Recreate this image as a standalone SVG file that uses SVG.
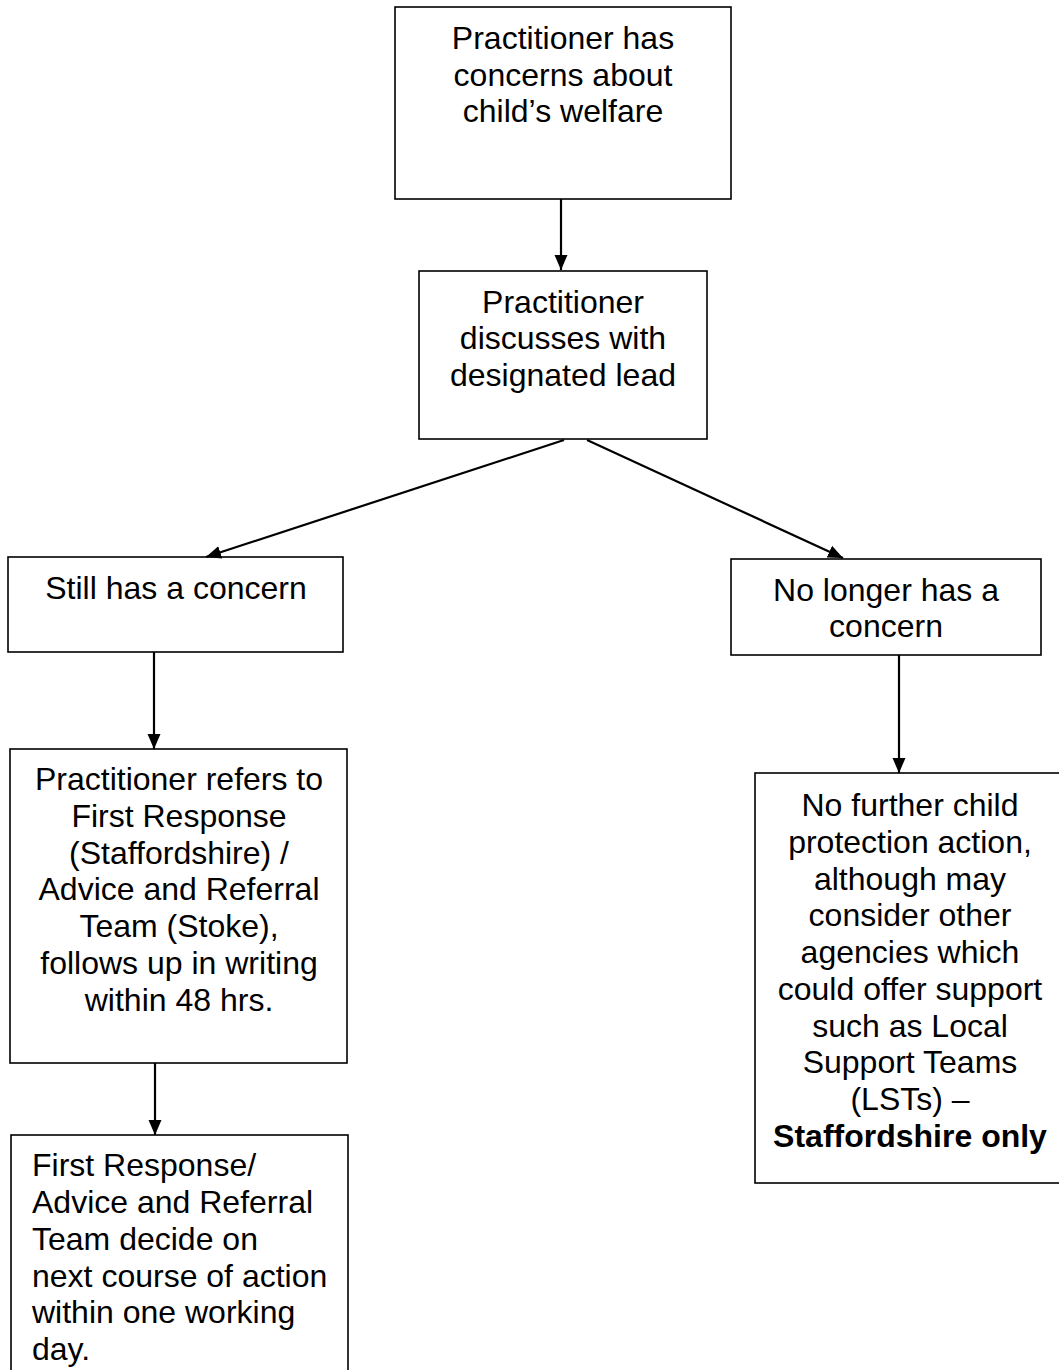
<svg xmlns="http://www.w3.org/2000/svg" width="1059" height="1370" viewBox="0 0 1059 1370">
<style>
.box{fill:#fff;stroke:#000;stroke-width:1.6}
.t{font-family:"Liberation Sans",Arial,sans-serif;font-size:32px;fill:#000}
.c{text-anchor:middle}
.b{font-weight:bold}
.conn{stroke:#000;stroke-width:2.2;fill:none}
</style>
<defs>
<marker id="ah" markerUnits="userSpaceOnUse" markerWidth="16" markerHeight="16" viewBox="0 0 16 16" refX="15" refY="8" orient="auto">
<path d="M0,1.5 L15,8 L0,14.5 Z" fill="#000"/>
</marker>
</defs>
<rect width="1059" height="1370" fill="#fff"/>
<g id="n1">
<rect class="box" x="395" y="7" width="336" height="192"/>
<text class="t c" x="563" y="49">Practitioner has</text>
<text class="t c" x="563" y="86">concerns about</text>
<text class="t c" x="563" y="122">child’s welfare</text>
</g>
<g id="n2">
<rect class="box" x="419" y="271" width="288" height="168"/>
<text class="t c" x="563" y="313">Practitioner</text>
<text class="t c" x="563" y="349">discusses with</text>
<text class="t c" x="563" y="386">designated lead</text>
</g>
<g id="n3">
<rect class="box" x="8" y="557" width="335" height="95"/>
<text class="t c" x="176" y="599">Still has a concern</text>
</g>
<g id="n4">
<rect class="box" x="731" y="559" width="310" height="96"/>
<text class="t c" x="886" y="601">No longer has a</text>
<text class="t c" x="886" y="637">concern</text>
</g>
<g id="n5">
<rect class="box" x="10" y="749" width="337" height="314"/>
<text class="t c" x="179" y="790">Practitioner refers to</text>
<text class="t c" x="179" y="827">First Response</text>
<text class="t c" x="179" y="864">(Staffordshire) /</text>
<text class="t c" x="179" y="900">Advice and Referral</text>
<text class="t c" x="179" y="937">Team (Stoke),</text>
<text class="t c" x="179" y="974">follows up in writing</text>
<text class="t c" x="179" y="1011">within 48 hrs.</text>
</g>
<g id="n6">
<rect class="box" x="11" y="1135" width="337" height="245"/>
<text class="t" x="32" y="1176">First Response/</text>
<text class="t" x="32" y="1213">Advice and Referral</text>
<text class="t" x="32" y="1250">Team decide on</text>
<text class="t" x="32" y="1287">next course of action</text>
<text class="t" x="32" y="1323">within one working</text>
<text class="t" x="32" y="1360">day.</text>
</g>
<g id="n7">
<rect class="box" x="755" y="773" width="310" height="410"/>
<text class="t c" x="910" y="816">No further child</text>
<text class="t c" x="910" y="853">protection action,</text>
<text class="t c" x="910" y="890">although may</text>
<text class="t c" x="910" y="926">consider other</text>
<text class="t c" x="910" y="963">agencies which</text>
<text class="t c" x="910" y="1000">could offer support</text>
<text class="t c" x="910" y="1037">such as Local</text>
<text class="t c" x="910" y="1073">Support Teams</text>
<text class="t c" x="910" y="1110">(LSTs) –</text>
<text class="t c b" x="910" y="1147">Staffordshire only</text>
</g>
<g id="connectors">
<line class="conn" x1="561" y1="199" x2="561" y2="270" marker-end="url(#ah)"/>
<line class="conn" x1="564" y1="440" x2="206" y2="557" marker-end="url(#ah)"/>
<line class="conn" x1="587" y1="440" x2="843" y2="558" marker-end="url(#ah)"/>
<line class="conn" x1="154" y1="652" x2="154" y2="749" marker-end="url(#ah)"/>
<line class="conn" x1="899" y1="655" x2="899" y2="773" marker-end="url(#ah)"/>
<line class="conn" x1="155" y1="1063" x2="155" y2="1135" marker-end="url(#ah)"/>
</g>
</svg>
